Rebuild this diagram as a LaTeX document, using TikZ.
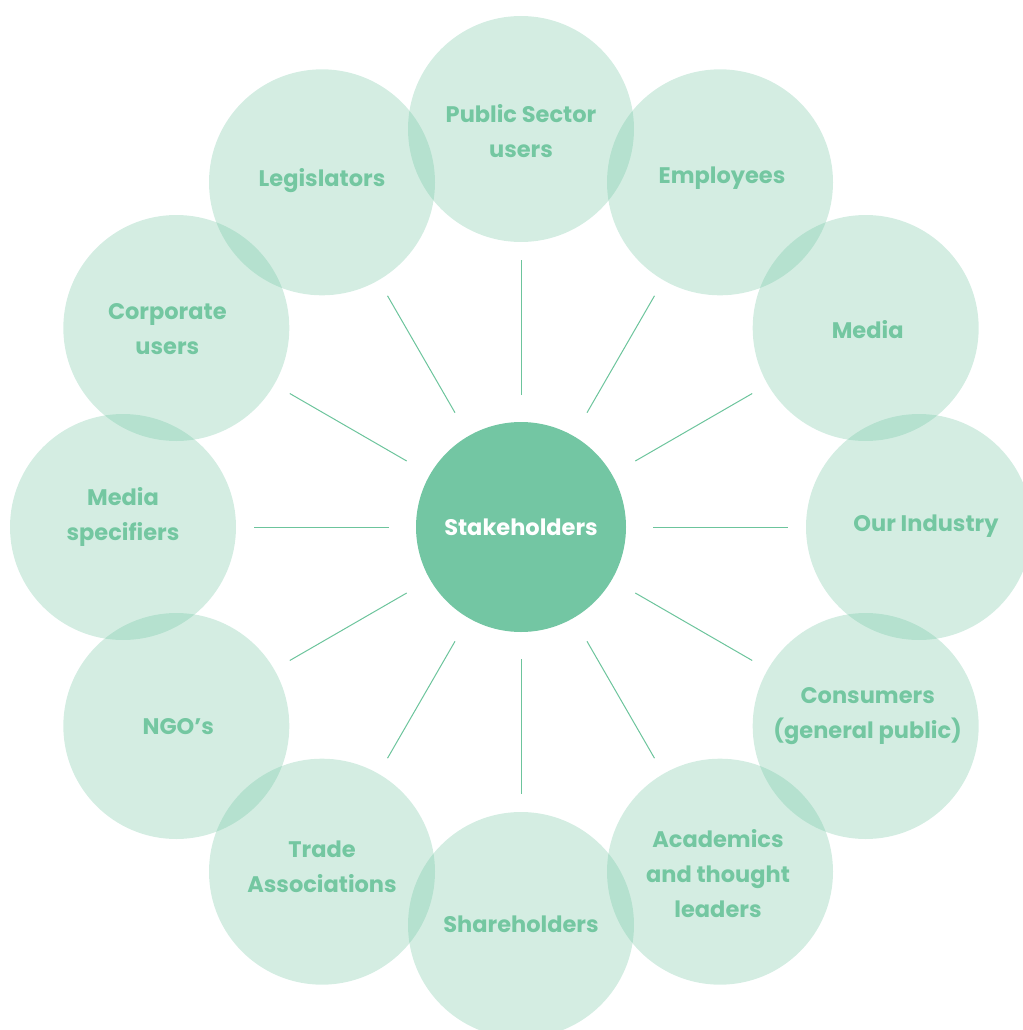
\documentclass[tikz,border=0pt]{standalone}
\usepackage{fontspec}
\setmainfont{Poppins}
\usetikzlibrary{calc}
\definecolor{sgreen}{HTML}{73C6A3}
\definecolor{stext}{HTML}{74C7A1}
\definecolor{sline}{HTML}{6CC49C}
\tikzset{
  outer/.style={circle, minimum size=226pt, inner sep=0pt, outer sep=0pt, fill=sgreen, fill opacity=0.31},
  otext/.style={text=stext, align=center, inner sep=0pt, font=\fontsize{22.5}{35}\selectfont\bfseries},
  hub/.style={circle, minimum size=210pt, inner sep=0pt, outer sep=0pt, fill=sgreen, text=white, font=\fontsize{22.5}{35}\selectfont\bfseries},
  spoke/.style={draw=sline, line width=1pt, shorten <=27pt, shorten >=18pt}
}
\begin{document}
\begin{tikzpicture}[x=1pt,y=1pt]
\useasboundingbox (0,0) rectangle (1022,-1030);
\coordinate (c0) at (521,-527);
\foreach \i/\a in {1/90,2/60,3/30,4/0,5/-30,6/-60,7/-90,8/-120,9/-150,10/180,11/150,12/120}
  { \node[outer] (o\i) at ($(c0)+(\a:398)$) {}; }
\node[otext] (t1) at ($(o1)+(0,-2)$) {Public Sector\\users};
\node[otext] (t2) at ($(o2)+(2,4)$) {Employees};
\node[otext] (t3) at ($(o3)+(2,-2)$) {Media};
\node[otext] (t4) at ($(o4)+(7,1)$) {Our Industry};
\node[otext] (t5) at ($(o5)+(2,10)$) {Consumers\\(general public)};
\node[otext] (t6) at ($(o6)+(-2,-2)$) {Academics\\and thought\\leaders};
\node[otext] (t7) at ($(o7)+(0,1)$) {Shareholders};
\node[otext] (t8) at ($(o8)+(0,5)$) {Trade\\Associations};
\node[otext] (t9) at ($(o9)+(2,-1)$) {NGO’s};
\node[otext] (t10) at ($(o10)+(0,10)$) {Media\\specifiers};
\node[otext] (t11) at ($(o11)+(-9,-1)$) {Corporate\\users};
\node[otext] (t12) at ($(o12)+(0,2)$) {Legislators};
\node[hub] (hub) at (c0) {Stakeholders};
\foreach \i in {1,...,12} { \draw[spoke] (hub) -- (o\i); }
\end{tikzpicture}
\end{document}
